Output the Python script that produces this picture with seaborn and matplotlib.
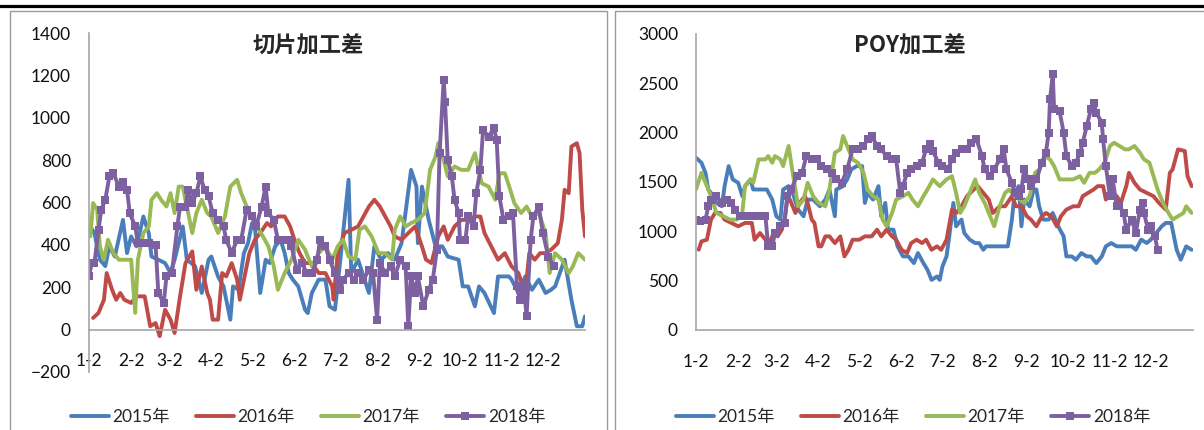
import numpy as np
import pandas as pd
import matplotlib
matplotlib.use("Agg")
import matplotlib.pyplot as plt
import seaborn as sns
from matplotlib.lines import Line2D
from matplotlib.patches import Rectangle

sns.set_theme(style="white")
plt.rcParams["font.family"] = ["Lato", "Noto Sans CJK SC", "DejaVu Sans"]

# ---------------- data ----------------
series_names = ["2015年", "2016年", "2017年", "2018年"]
series_colors = ["#4A7EBB", "#BE4B48", "#98B954", "#7D60A0"]
month_labels = ["1-2", "2-2", "3-2", "4-2", "5-2", "6-2", "7-2", "8-2", "9-2", "10-2", "11-2", "12-2"]

# 切片加工差 (days counted from Jan 2)
chip_2015_day = [1, 4, 8, 12, 15, 19, 25, 28, 31, 35, 40, 44, 46, 51, 56, 60, 63, 69, 72, 78, 83, 88, 90, 95, 99, 104, 106, 110, 114, 117, 120, 122, 126, 130, 133, 137, 141, 144, 147, 150, 154, 159, 161, 164, 169, 174, 177, 181, 186, 191, 193, 198, 206, 210, 215, 220, 225, 230, 237, 241, 242, 245, 250, 255, 260, 264, 272, 275, 279, 284, 287, 291, 298, 301, 309, 311, 316, 321, 326, 331, 336, 340, 343, 350, 355, 359, 363, 365]
chip_2015_val = [487, 455, 330, 300, 393, 345, 518, 361, 440, 393, 534, 455, 345, 330, 314, 267, 330, 487, 330, 300, 173, 330, 345, 250, 204, 47, 204, 190, 361, 408, 503, 490, 173, 330, 314, 393, 424, 361, 267, 236, 204, 94, 78, 173, 236, 236, 110, 94, 393, 707, 267, 330, 173, 393, 330, 361, 330, 408, 754, 675, 408, 675, 518, 393, 393, 345, 330, 204, 204, 110, 204, 173, 78, 251, 251, 236, 173, 251, 188, 236, 173, 188, 204, 330, 141, 16, 16, 63]

chip_2016_day = [3, 7, 11, 13, 17, 20, 23, 26, 31, 35, 41, 45, 49, 52, 56, 60, 63, 67, 71, 76, 79, 83, 87, 89, 91, 95, 98, 101, 105, 109, 111, 115, 118, 122, 126, 131, 134, 139, 144, 148, 152, 155, 159, 164, 169, 174, 179, 180, 183, 188, 193, 198, 202, 206, 210, 214, 218, 222, 225, 230, 235, 240, 245, 248, 252, 257, 261, 264, 269, 274, 279, 284, 288, 291, 296, 301, 306, 311, 316, 321, 324, 328, 332, 336, 340, 345, 348, 350, 353, 355, 359, 361, 363, 365]
chip_2016_val = [55, 79, 141, 267, 188, 141, 173, 141, 126, 157, 157, 16, 31, -31, 94, 47, -16, 157, 314, 369, 188, 298, 173, 141, 47, 47, 267, 251, 314, 236, 141, 267, 361, 424, 456, 503, 487, 534, 534, 487, 408, 361, 314, 314, 267, 267, 204, 141, 361, 456, 471, 487, 534, 581, 613, 581, 534, 487, 440, 424, 456, 487, 393, 330, 314, 440, 487, 424, 487, 518, 518, 534, 534, 456, 393, 330, 361, 298, 267, 173, 361, 330, 361, 361, 377, 408, 518, 660, 644, 864, 880, 833, 566, 440]

chip_2017_day = [1, 3, 6, 8, 11, 14, 18, 22, 26, 31, 34, 36, 40, 44, 46, 50, 53, 57, 60, 63, 66, 69, 72, 76, 79, 83, 87, 90, 95, 100, 104, 109, 112, 117, 121, 125, 128, 132, 136, 139, 144, 149, 154, 159, 164, 169, 174, 179, 183, 187, 191, 196, 199, 203, 208, 213, 218, 223, 225, 229, 233, 237, 242, 247, 251, 255, 257, 261, 264, 269, 274, 279, 284, 289, 294, 299, 302, 306, 310, 313, 318, 322, 326, 331, 336, 339, 343, 348, 353, 356, 360, 365]
chip_2017_val = [440, 597, 566, 393, 330, 424, 361, 330, 330, 330, 79, 330, 456, 487, 613, 644, 613, 581, 644, 550, 675, 675, 581, 456, 550, 613, 550, 534, 456, 534, 675, 707, 644, 566, 518, 471, 440, 393, 298, 188, 267, 330, 424, 377, 298, 361, 393, 330, 393, 424, 345, 330, 471, 487, 440, 361, 361, 330, 471, 534, 487, 503, 518, 550, 754, 817, 880, 801, 723, 770, 754, 754, 833, 691, 675, 613, 738, 738, 660, 597, 550, 581, 534, 550, 456, 267, 361, 330, 267, 298, 361, 330]

chip_2018_day = [0, 2, 4, 7, 9, 12, 15, 18, 22, 25, 28, 30, 34, 36, 40, 44, 49, 51, 55, 57, 61, 65, 67, 71, 73, 76, 79, 82, 85, 88, 91, 95, 99, 101, 105, 109, 112, 116, 120, 123, 127, 130, 132, 136, 139, 143, 147, 149, 153, 157, 160, 164, 168, 170, 174, 177, 181, 185, 187, 191, 195, 198, 202, 206, 209, 212, 214, 218, 222, 225, 229, 233, 235, 237, 240, 242, 246, 250, 253, 256, 258, 261, 262, 264, 267, 269, 272, 273, 277, 279, 283, 285, 288, 290, 294, 298, 300, 302, 305, 309, 312, 315, 317, 320, 322, 325, 327, 331, 334, 338, 342]
chip_2018_val = [251, 314, 314, 471, 566, 613, 723, 738, 675, 698, 660, 550, 487, 408, 408, 408, 400, 173, 126, 251, 267, 487, 581, 581, 660, 597, 644, 723, 660, 629, 550, 518, 487, 424, 361, 424, 424, 566, 534, 487, 581, 675, 550, 518, 424, 424, 424, 393, 283, 314, 267, 267, 330, 424, 393, 330, 267, 188, 236, 267, 236, 267, 236, 283, 267, 47, 314, 267, 298, 251, 330, 298, 16, 251, 173, 251, 110, 188, 236, 377, 833, 1178, 1076, 801, 723, 613, 550, 424, 424, 534, 487, 644, 754, 943, 911, 950, 895, 629, 518, 534, 550, 204, 141, 204, 63, 424, 534, 581, 456, 345, 298]

# POY加工差
poy_2015_day = [0, 4, 7, 9, 11, 15, 19, 21, 24, 27, 31, 34, 36, 40, 42, 46, 52, 56, 59, 62, 64, 68, 71, 75, 79, 82, 86, 91, 95, 98, 102, 103, 108, 111, 114, 118, 122, 124, 126, 130, 134, 136, 139, 141, 145, 148, 152, 156, 160, 163, 167, 170, 173, 177, 179, 181, 184, 186, 189, 191, 195, 197, 201, 205, 208, 211, 213, 218, 223, 229, 232, 234, 237, 239, 241, 245, 248, 250, 252, 255, 259, 262, 266, 270, 272, 276, 279, 283, 287, 290, 294, 298, 301, 305, 309, 312, 316, 320, 323, 327, 331, 334, 338, 342, 345, 349, 353, 356, 360, 364]
poy_2015_val = [1746, 1695, 1593, 1424, 1390, 1288, 1254, 1458, 1661, 1526, 1492, 1356, 1458, 1526, 1424, 1424, 1424, 1322, 1153, 1119, 1424, 1458, 1390, 1220, 1153, 1322, 1322, 1254, 1322, 1424, 1153, 1424, 1458, 1526, 1627, 1661, 1661, 1288, 1390, 1322, 1458, 1153, 1288, 1017, 1017, 848, 746, 746, 678, 780, 678, 610, 508, 542, 508, 644, 746, 949, 1288, 1051, 1119, 983, 916, 881, 881, 813, 848, 848, 848, 848, 1119, 1390, 1458, 1051, 1322, 1254, 1424, 1424, 1254, 1119, 1119, 1186, 1051, 949, 746, 746, 712, 780, 746, 746, 678, 746, 848, 881, 848, 848, 848, 848, 813, 916, 881, 916, 983, 1051, 1085, 1085, 813, 712, 848, 813]

poy_2016_day = [2, 4, 8, 11, 14, 18, 21, 26, 31, 36, 41, 43, 47, 51, 53, 57, 60, 63, 65, 67, 69, 73, 76, 80, 82, 85, 87, 90, 92, 95, 98, 102, 106, 109, 112, 115, 120, 124, 129, 133, 136, 140, 144, 147, 151, 155, 158, 162, 166, 169, 173, 177, 180, 184, 188, 191, 195, 199, 204, 207, 211, 215, 218, 223, 227, 232, 235, 239, 243, 246, 250, 254, 257, 261, 265, 268, 272, 277, 281, 284, 288, 292, 295, 299, 301, 305, 309, 312, 316, 318, 322, 326, 331, 336, 340, 345, 348, 350, 354, 359, 361, 364]
poy_2016_val = [814, 898, 915, 1119, 1186, 1186, 1119, 1085, 1051, 1085, 1085, 915, 983, 915, 848, 983, 949, 1017, 1119, 1322, 1322, 1186, 1288, 1356, 1288, 1119, 1085, 848, 848, 949, 949, 881, 949, 746, 813, 915, 915, 949, 949, 1017, 949, 1017, 949, 915, 813, 780, 881, 915, 881, 915, 813, 848, 813, 915, 1220, 1186, 1254, 1356, 1424, 1458, 1390, 1322, 1186, 1254, 1254, 1356, 1254, 1254, 1153, 1119, 1051, 1153, 1186, 1153, 1051, 1153, 1220, 1254, 1254, 1356, 1390, 1424, 1458, 1458, 1322, 1390, 1356, 1288, 1458, 1593, 1492, 1424, 1390, 1356, 1288, 1220, 1593, 1627, 1831, 1814, 1559, 1458]

poy_2017_day = [0, 4, 8, 11, 15, 20, 25, 30, 34, 36, 40, 42, 46, 51, 53, 56, 58, 62, 64, 68, 71, 75, 79, 82, 86, 90, 95, 98, 102, 106, 108, 112, 115, 119, 123, 126, 130, 134, 137, 140, 144, 147, 152, 156, 159, 163, 167, 170, 174, 179, 184, 188, 191, 194, 197, 201, 205, 208, 212, 216, 219, 223, 227, 230, 234, 238, 241, 245, 249, 252, 256, 260, 263, 267, 272, 277, 282, 285, 289, 293, 296, 300, 304, 307, 311, 315, 318, 322, 326, 329, 333, 336, 339, 343, 347, 350, 354, 358, 360, 364]
poy_2017_val = [1424, 1593, 1458, 1356, 1186, 1153, 1119, 1119, 1186, 1458, 1526, 1492, 1729, 1729, 1763, 1695, 1763, 1729, 1661, 1865, 1593, 1254, 1322, 1492, 1356, 1288, 1254, 1424, 1797, 1831, 1966, 1831, 1729, 1695, 1593, 1424, 1356, 1322, 1119, 1051, 1186, 1322, 1356, 1390, 1322, 1254, 1356, 1424, 1526, 1458, 1526, 1559, 1390, 1186, 1254, 1390, 1526, 1390, 1288, 1153, 1051, 1254, 1390, 1424, 1356, 1322, 1288, 1356, 1593, 1627, 1763, 1729, 1661, 1526, 1526, 1526, 1559, 1492, 1593, 1593, 1627, 1695, 1865, 1898, 1865, 1831, 1831, 1865, 1797, 1729, 1695, 1559, 1424, 1288, 1186, 1119, 1153, 1186, 1254, 1186]

poy_2018_day = [0, 3, 7, 9, 11, 15, 19, 23, 26, 29, 32, 36, 40, 43, 48, 51, 53, 56, 58, 62, 65, 67, 70, 74, 78, 81, 85, 89, 92, 96, 100, 103, 107, 111, 115, 119, 123, 126, 129, 133, 136, 140, 144, 147, 150, 152, 155, 158, 162, 166, 169, 172, 174, 178, 181, 185, 188, 191, 195, 199, 202, 206, 210, 212, 216, 219, 223, 226, 228, 232, 234, 237, 239, 241, 244, 246, 250, 254, 257, 259, 260, 262, 263, 267, 270, 272, 276, 279, 282, 284, 287, 290, 292, 294, 298, 299, 301, 304, 306, 309, 311, 314, 316, 320, 323, 326, 328, 329, 332, 334, 337, 339]
poy_2018_val = [1119, 1102, 1119, 1254, 1322, 1356, 1288, 1322, 1288, 1220, 1153, 1153, 1153, 1153, 1153, 1153, 848, 848, 983, 1051, 1085, 1356, 1424, 1559, 1593, 1763, 1729, 1729, 1661, 1627, 1593, 1526, 1492, 1627, 1831, 1831, 1865, 1932, 1966, 1865, 1831, 1763, 1729, 1729, 1390, 1458, 1593, 1627, 1661, 1695, 1831, 1882, 1814, 1695, 1661, 1627, 1729, 1797, 1831, 1831, 1898, 1932, 1763, 1627, 1559, 1627, 1729, 1831, 1627, 1492, 1390, 1356, 1424, 1627, 1526, 1458, 1526, 1695, 1797, 2000, 2339, 2593, 2237, 2220, 2000, 1763, 1661, 1695, 1797, 1898, 2068, 2237, 2305, 2203, 2102, 1932, 1661, 1356, 1526, 1254, 1254, 1186, 1017, 1119, 983, 1220, 1288, 1186, 1017, 1051, 949, 813]

chip_days = [chip_2015_day, chip_2016_day, chip_2017_day, chip_2018_day]
chip_vals = [chip_2015_val, chip_2016_val, chip_2017_val, chip_2018_val]
poy_days = [poy_2015_day, poy_2016_day, poy_2017_day, poy_2018_day]
poy_vals = [poy_2015_val, poy_2016_val, poy_2017_val, poy_2018_val]

# ---------------- figure ----------------
W, H = 1204, 430
fig = plt.figure(figsize=(W / 100, H / 100), dpi=100)
fig.patch.set_facecolor("white")

tick_font = ["Lato", "Noto Sans CJK SC"]
title_font = ["Noto Sans CJK SC", "DejaVu Sans"]
axis_gray = "#A6A6A6"

month_pos = [(pd.Timestamp(2018, m, 2) - pd.Timestamp(2018, 1, 2)).days for m in range(1, 13)]


def draw_panel(ax, days, vals, ylim, ystep, zero_spine):
    for name, color, d, v in zip(series_names, series_colors, days, vals):
        df = pd.DataFrame({"day": d, "val": v})
        kw = {}
        if name == "2018年":
            kw = dict(marker="s", markersize=6, markeredgewidth=0, markerfacecolor=color)
        sns.lineplot(data=df, x="day", y="val", ax=ax, color=color, lw=2.8,
                     label=name, estimator=None, sort=False, **kw)
    ax.set_xlim(0, 365)
    ax.set_ylim(*ylim)
    ax.set_yticks(np.arange(ylim[0], ylim[1] + 1, ystep))
    ax.set_xticks(month_pos)
    ax.set_xticklabels(month_labels)
    ax.set_xlabel("")
    ax.set_ylabel("")
    for s in ["top", "right"]:
        ax.spines[s].set_visible(False)
    for s in ["left", "bottom"]:
        ax.spines[s].set_color(axis_gray)
        ax.spines[s].set_linewidth(1.2)
    if zero_spine:
        ax.spines["bottom"].set_position(("data", 0))
    ax.tick_params(axis="x", length=0, pad=17, labelsize=12.5, colors="#111111")
    ax.tick_params(axis="y", length=0, pad=13, labelsize=12.5, colors="#111111")
    for lab in ax.get_xticklabels() + ax.get_yticklabels():
        lab.set_family(tick_font)
    ax.grid(False)
    ax.set_facecolor("none")
    leg = ax.get_legend()
    if leg is not None:
        leg.remove()


ax1 = fig.add_axes([89 / W, 1 - 372 / H, (585 - 89) / W, (372 - 33) / H])
draw_panel(ax1, chip_days, chip_vals, (-200, 1400), 200, True)

ax2 = fig.add_axes([696 / W, 1 - 330 / H, (1193 - 696) / W, (330 - 34) / H])
draw_panel(ax2, poy_days, poy_vals, (0, 3000), 500, False)

# panel frames and top rule
fig.add_artist(Rectangle((10 / W, -0.05), (607 - 10) / W, 1.05 - 11 / H, transform=fig.transFigure,
                         fill=False, edgecolor="#9A9A9A", lw=1.0))
fig.add_artist(Rectangle((615 / W, -0.05), (1210 - 615) / W, 1.05 - 11 / H, transform=fig.transFigure,
                         fill=False, edgecolor="#9A9A9A", lw=1.0))
fig.add_artist(Line2D([0, 1], [1 - 5.5 / H, 1 - 5.5 / H], transform=fig.transFigure, color="black", lw=2.3))

# titles
fig.text(308 / W, 1 - 46 / H, "切片加工差", ha="center", va="center", fontsize=16,
         fontweight="bold", family=title_font)
fig.text(910 / W, 1 - 46 / H, "POY加工差", ha="center", va="center", fontsize=16,
         fontweight="bold", family=title_font)

# legends
for ax, cx in [(ax1, 308), (ax2, 913)]:
    handles, labels = ax.get_legend_handles_labels()
    fig.legend(handles, labels, loc="center", bbox_to_anchor=(cx / W, 1 - 417 / H), ncol=4,
               frameon=False, handlelength=2.2, handletextpad=0.2, columnspacing=1.5,
               prop={"family": tick_font, "size": 12.5}, borderaxespad=0, borderpad=0)

fig.savefig("out.png", dpi=100, facecolor="white")
